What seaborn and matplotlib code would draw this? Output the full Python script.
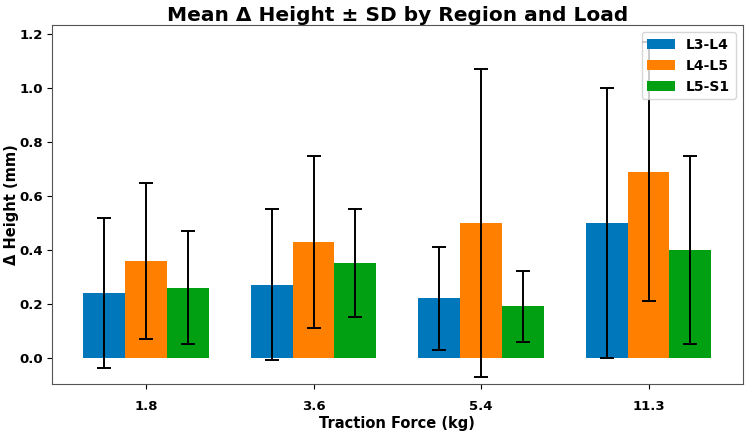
import numpy as np
import pandas as pd
import matplotlib
matplotlib.use("Agg")
import matplotlib.pyplot as plt
import seaborn as sns

sns.set_style("ticks", {"text.color": "black", "axes.labelcolor": "black",
                        "xtick.color": "black", "ytick.color": "black"})

loads = ["1.8", "3.6", "5.4", "11.3"]
regions = ["L3-L4", "L4-L5", "L5-S1"]
mean_l3l4 = [0.24, 0.27, 0.22, 0.50]
mean_l4l5 = [0.36, 0.43, 0.50, 0.69]
mean_l5s1 = [0.26, 0.35, 0.19, 0.40]
sd_l3l4 = [0.28, 0.28, 0.19, 0.50]
sd_l4l5 = [0.29, 0.32, 0.57, 0.48]
sd_l5s1 = [0.21, 0.20, 0.13, 0.35]

colors = ["#0077BB", "#FF8000", "#00A012"]

means = [mean_l3l4, mean_l4l5, mean_l5s1]
sds = [sd_l3l4, sd_l4l5, sd_l5s1]
df = pd.DataFrame({
    "Load": [l for r in regions for l in loads],
    "Region": [r for r in regions for l in loads],
    "Mean": [v for m in means for v in m],
    "SD": [v for s in sds for v in s],
})

fig = plt.figure(figsize=(7.51, 4.34), dpi=100)
ax = fig.add_axes([0.069, 0.115, 0.920, 0.827])

sns.barplot(data=df, x="Load", y="Mean", hue="Region", order=loads, hue_order=regions,
            palette=colors, width=0.75, gap=0, errorbar=None, saturation=1,
            linewidth=0, ax=ax)

# error bars at the bar centres
for cont, sd in zip(ax.containers, sds):
    xs = [p.get_x() + p.get_width() / 2 for p in cont.patches]
    hs = [p.get_height() for p in cont.patches]
    ax.errorbar(xs, hs, yerr=sd, fmt="none", ecolor="black", elinewidth=1.4,
                capsize=5, capthick=1.4)

ax.set_xlim(-0.5625, 3.5625)
ax.set_ylim(-0.098, 1.234)
ax.set_yticks([0.0, 0.2, 0.4, 0.6, 0.8, 1.0, 1.2])
ax.set_title("Mean Δ Height ± SD by Region and Load", fontsize=14.5, fontweight="bold",
             color="black", pad=3)
ax.set_xlabel("Traction Force (kg)", fontsize=10.5, fontweight="bold", labelpad=2)
ax.set_ylabel("Δ Height (mm)", fontsize=10.5, fontweight="bold", labelpad=0)
for lab in ax.get_xticklabels() + ax.get_yticklabels():
    lab.set_fontweight("bold")
    lab.set_fontsize(9.5)
ax.tick_params(axis="x", pad=8)
ax.tick_params(axis="y", pad=3)
for sp in ax.spines.values():
    sp.set_color("#555555")

leg = ax.legend(loc="upper right", prop={"weight": "bold", "size": 10})
leg.set_title(None)

fig.savefig("out.png", dpi=100)
